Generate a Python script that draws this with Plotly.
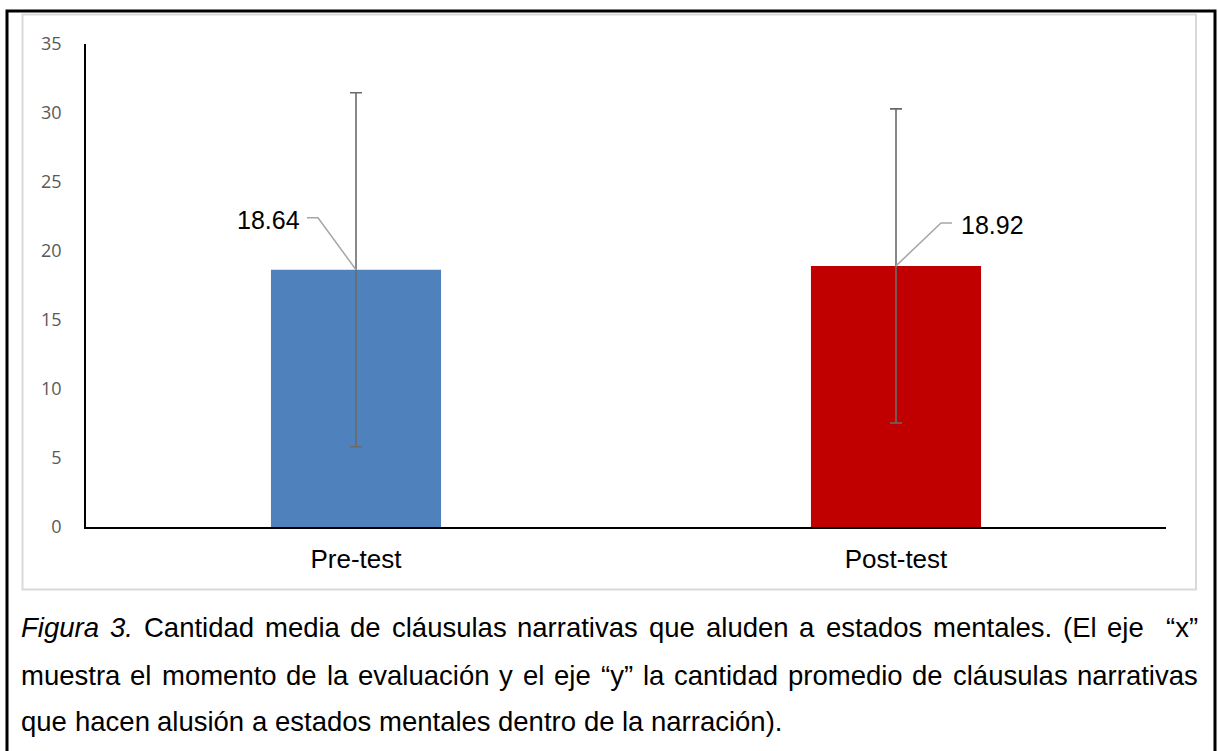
import plotly.graph_objects as go

# ---- data ----
categories = ["Pre-test", "Post-test"]
means = [18.64, 18.92]
sd = [12.83, 11.38]
bar_colors = ["#4F81BD", "#C00000"]
y_ticks = [0, 5, 10, 15, 20, 25, 30, 35]
caption_lines = [
    "Figura 3. Cantidad media de cláusulas narrativas que aluden a estados mentales. (El eje  “x”",
    "muestra el momento de la evaluación y el eje “y” la cantidad promedio de cláusulas narrativas",
    "que hacen alusión a estados mentales dentro de la narración).",
]
caption_italic_words = 2          # "Figura 3." in italics
caption_justified = [True, True, False]

# ---- layout geometry (pixels) ----
W, H = 1218, 751
L, R, T, B = 86, 52, 44, 224
pw = W - L - R
ph = H - T - B


def px(x):
    return (x - L) / pw


def py(y):
    return (H - B - y) / ph


# Arial / Liberation Sans advance widths (1/1000 em)
ARIAL = {
    " ": 278, "a": 556, "b": 556, "c": 500, "d": 556, "e": 556, "f": 278, "g": 556,
    "h": 556, "i": 222, "j": 222, "k": 500, "l": 222, "m": 833, "n": 556, "o": 556,
    "p": 556, "q": 556, "r": 333, "s": 500, "t": 278, "u": 556, "v": 500, "w": 722,
    "x": 500, "y": 500, "z": 500, "á": 556, "é": 556, "í": 278, "ó": 556, "ú": 556,
    "F": 611, "C": 722, "E": 667, "3": 556, ".": 278, "(": 333, ")": 333,
    "“": 333, "”": 333,
}


def text_w(s, size):
    return sum(ARIAL.get(ch, 556) for ch in s) * size / 1000


fig = go.Figure()
fig.add_trace(go.Bar(
    x=categories, y=means, width=0.315,
    marker=dict(color=bar_colors, line=dict(width=0)),
    error_y=dict(type="data", array=sd, visible=True, color="#6b6b6b",
                 thickness=1.6, width=6),
    hoverinfo="skip",
))

# data labels with leader lines
label_specs = [
    dict(path="M0,0 L-38,52 L-49,52", xshift=-56, yshift=50, xanchor="right"),
    dict(path="M0,0 L45,43 L56,43", xshift=65, yshift=41, xanchor="left"),
]
for i, (c, v) in enumerate(zip(categories, means)):
    s = label_specs[i]
    fig.add_shape(type="path", xref="x", yref="y", xsizemode="pixel", ysizemode="pixel",
                  xanchor=i, yanchor=v, path=s["path"],
                  line=dict(color="#a6a6a6", width=1.5), layer="above")
    fig.add_annotation(x=c, y=v, xref="x", yref="y", text=f"{v:.2f}", showarrow=False,
                       xanchor=s["xanchor"], yanchor="middle",
                       xshift=s["xshift"], yshift=s["yshift"], borderpad=0, borderwidth=0,
                       font=dict(family="Liberation Sans, Arial", size=25, color="#000000"))

# borders
fig.add_shape(type="rect", xref="paper", yref="paper",
              x0=px(22.5), x1=px(1196), y0=py(589.5), y1=py(14.5),
              line=dict(color="#d9d9d9", width=2), layer="below")
fig.add_shape(type="rect", xref="paper", yref="paper",
              x0=px(7), x1=px(1215), y0=py(790), y1=py(11),
              line=dict(color="#000000", width=3), layer="below")

# caption (justified like the source document)
CAP_SIZE = 27.5
CAP_LEFT, CAP_RIGHT = 21, 1198
cap_centers = [627, 675, 721]
widx = 0
for li, line in enumerate(caption_lines):
    words = line.split(" ")
    widths = [text_w(w, CAP_SIZE) for w in words]
    space = text_w(" ", CAP_SIZE)
    if caption_justified[li] and len(words) > 1:
        gap = (CAP_RIGHT - CAP_LEFT - sum(widths)) / (len(words) - 1)
    else:
        gap = space
    xpos = CAP_LEFT
    for w, ww in zip(words, widths):
        if w:
            txt = f"<i>{w}</i>" if widx < caption_italic_words else w
            fig.add_annotation(x=px(xpos), y=py(cap_centers[li]), xref="paper", yref="paper",
                               text=txt, showarrow=False, xanchor="left", yanchor="middle",
                               borderpad=0, borderwidth=0,
                               font=dict(family="Liberation Sans, Arial", size=CAP_SIZE,
                                         color="#000000"))
            widx += 1
        xpos += ww + gap

fig.update_layout(
    width=W, height=H,
    margin=dict(l=L, r=R, t=T, b=B, pad=0),
    paper_bgcolor="white", plot_bgcolor="white",
    showlegend=False,
    xaxis=dict(showline=True, linecolor="#000000", linewidth=2, ticks="",
               showgrid=False, zeroline=False, ticklabelstandoff=8,
               tickfont=dict(family="Liberation Sans, Arial", size=26, color="#000000")),
    yaxis=dict(range=[0, 35], tickvals=y_ticks, showline=True, linecolor="#000000",
               linewidth=1.5, ticks="", showgrid=False, zeroline=False,
               ticklabelstandoff=19,
               tickfont=dict(family="Open Sans", size=18, color="#595959")),
)

fig.write_html("out.html", config={"displayModeBar": False},
               post_script="document.body.style.margin='0';")
